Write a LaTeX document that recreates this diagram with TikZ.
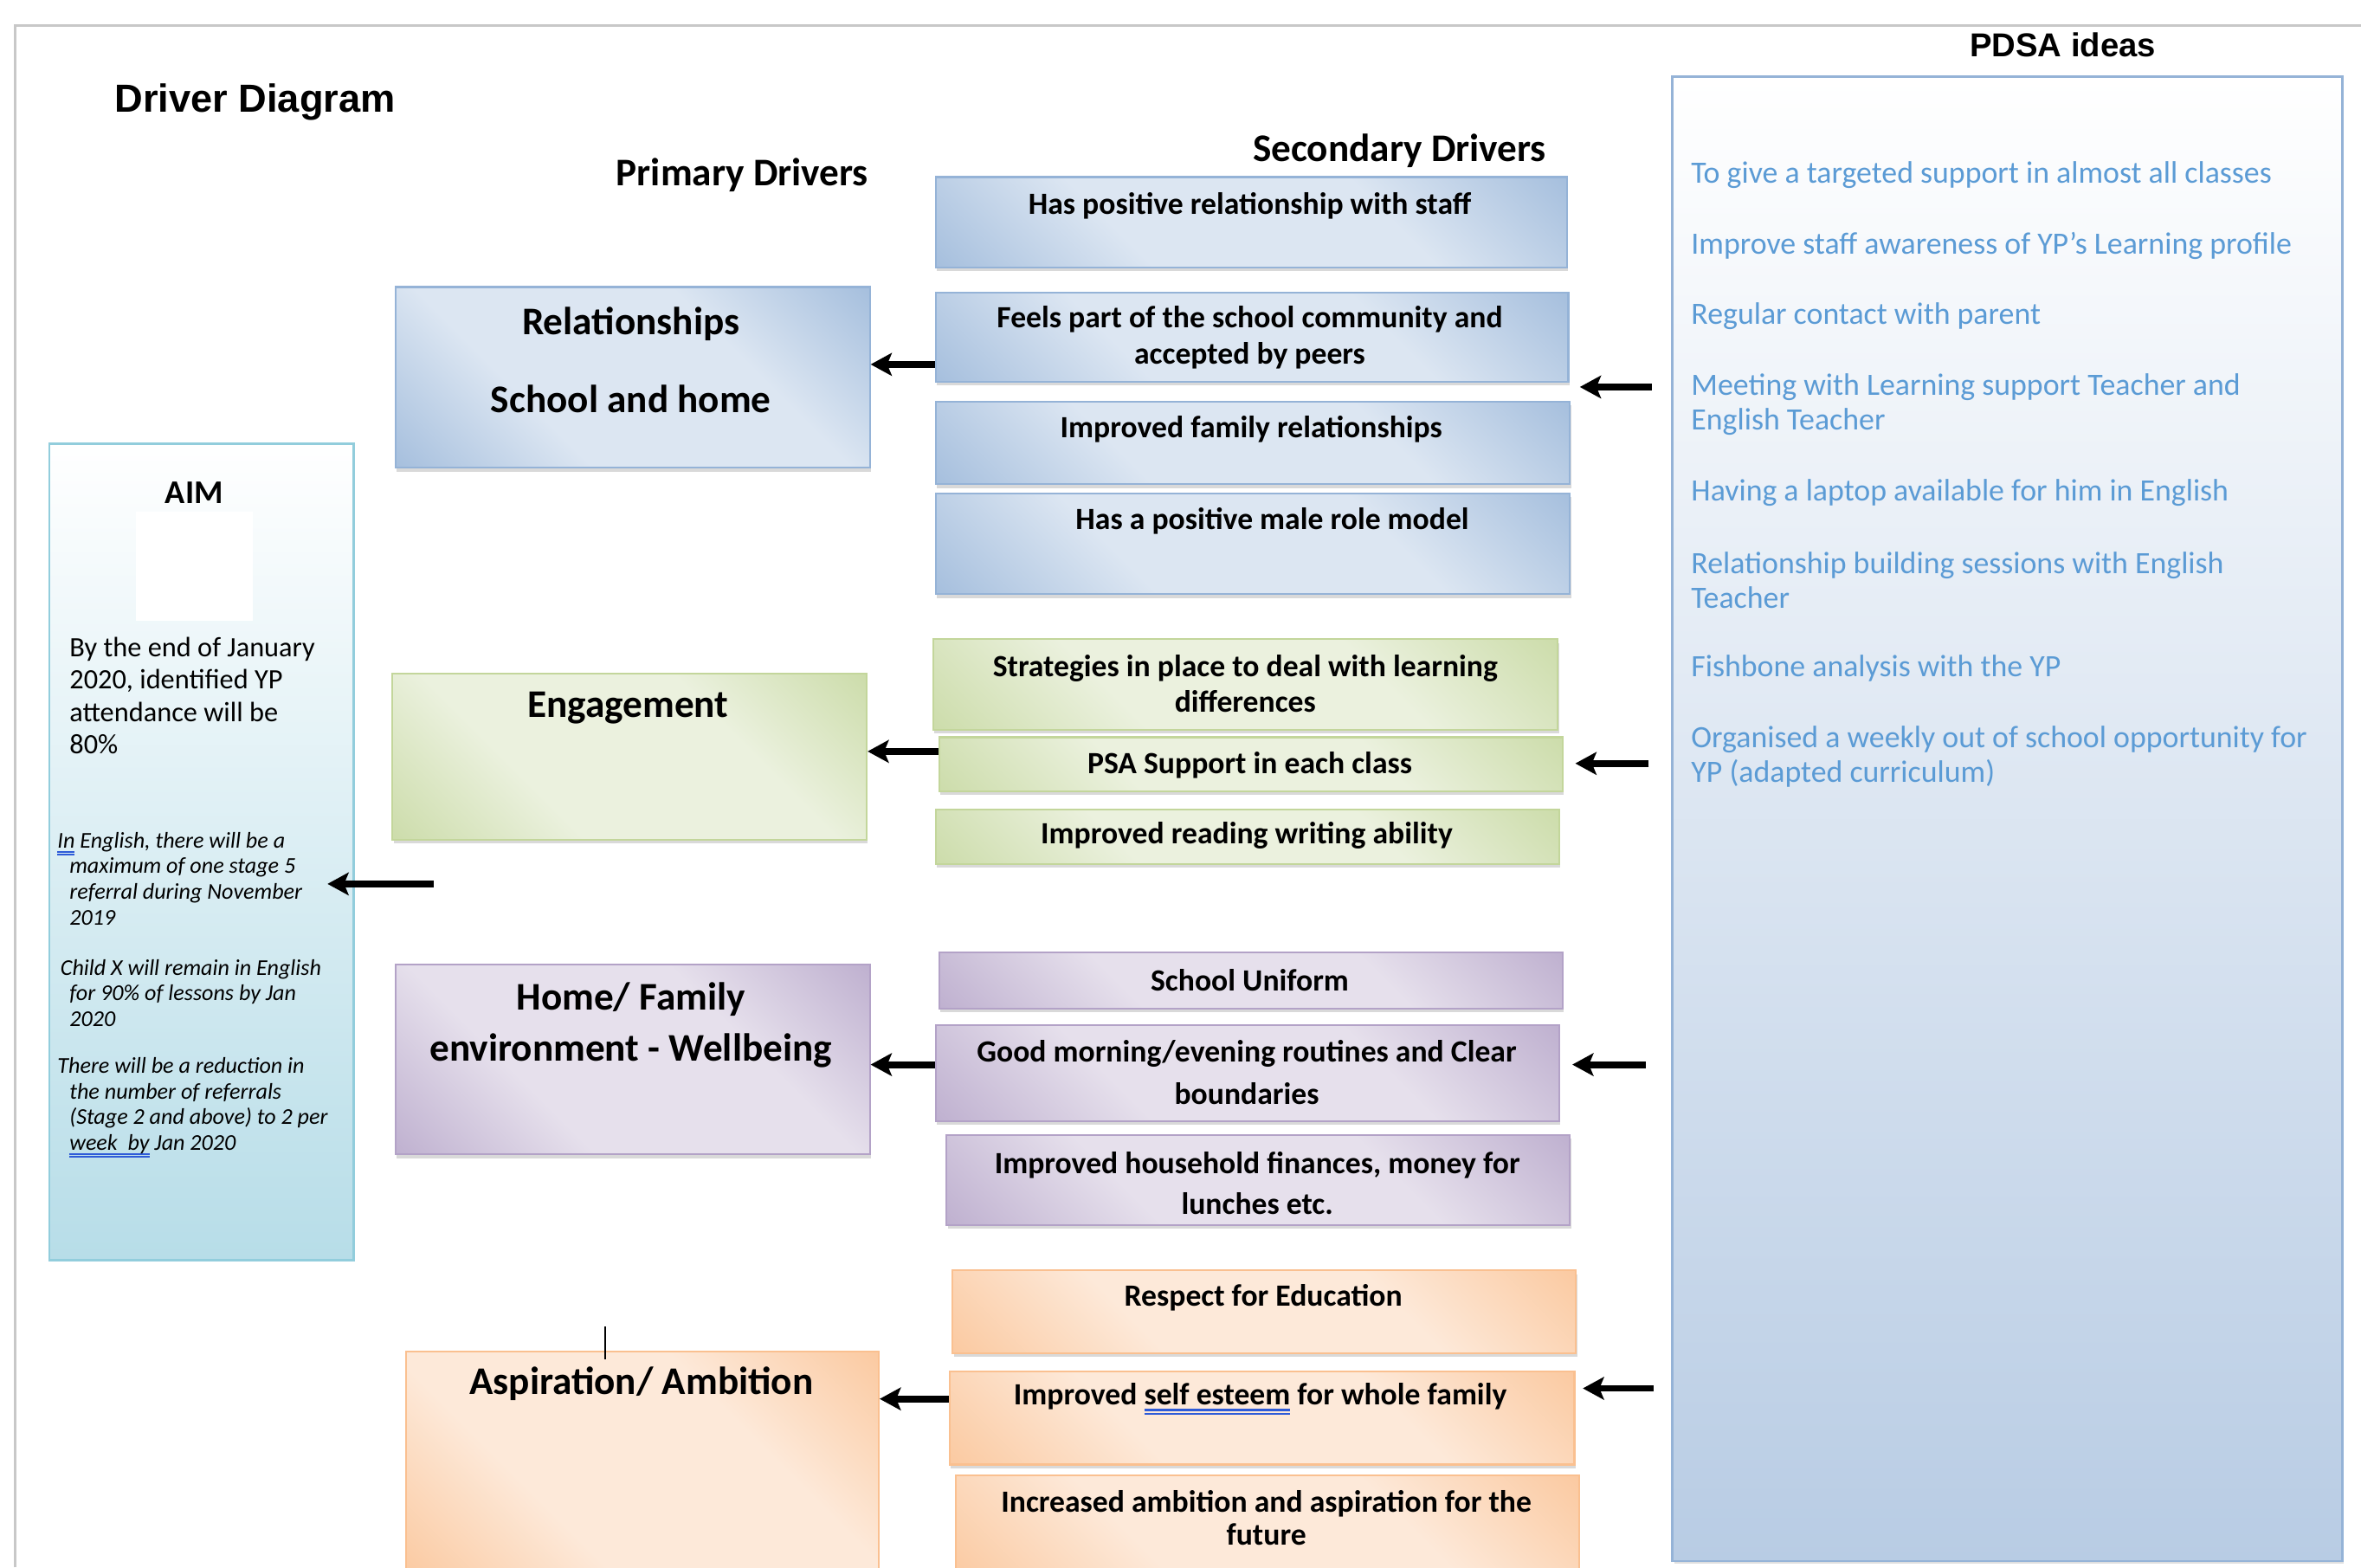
\documentclass[tikz,border=0pt]{standalone}
\usepackage{fontspec}
\setmainfont{Carlito}
\newfontfamily\arialfont{Liberation Sans}
\usetikzlibrary{arrows.meta,shadows}

\definecolor{bluedark}{HTML}{95B3D7}
\definecolor{bluelight}{HTML}{DCE6F2}
\definecolor{greendark}{HTML}{C3D69B}
\definecolor{greenlight}{HTML}{EBF1DE}
\definecolor{purpledark}{HTML}{B3A2C7}
\definecolor{purplelight}{HTML}{E6E0EC}
\definecolor{orangedark}{HTML}{FAC090}
\definecolor{orangelight}{HTML}{FDE9D9}
\definecolor{pdsablue}{HTML}{B8CCE4}
\definecolor{pdsatext}{HTML}{5B9BD5}
\definecolor{aimblue}{HTML}{B7DDE8}
\definecolor{aimline}{HTML}{92CDDC}
\definecolor{gramblue}{HTML}{2E5BD8}
\definecolor{framegray}{HTML}{C8C8C8}

\pgfdeclareverticalshading{bluediag}{100bp}{color(0bp)=(bluedark); color(8bp)=(bluedark); color(36bp)=(bluelight); color(64bp)=(bluelight); color(92bp)=(bluedark); color(100bp)=(bluedark)}
\pgfdeclareverticalshading{greendiag}{100bp}{color(0bp)=(greendark); color(8bp)=(greendark); color(36bp)=(greenlight); color(64bp)=(greenlight); color(92bp)=(greendark); color(100bp)=(greendark)}
\pgfdeclareverticalshading{purplediag}{100bp}{color(0bp)=(purpledark); color(8bp)=(purpledark); color(36bp)=(purplelight); color(64bp)=(purplelight); color(92bp)=(purpledark); color(100bp)=(purpledark)}
\pgfdeclareverticalshading{orangediag}{100bp}{color(0bp)=(orangedark); color(8bp)=(orangedark); color(36bp)=(orangelight); color(64bp)=(orangelight); color(92bp)=(orangedark); color(100bp)=(orangedark)}

% grammar-check underline
\newcommand{\gram}[1]{\setbox0\hbox{#1}\rlap{\color{gramblue}\rule[-0.2em]{\wd0}{0.06em}}\rlap{\color{gramblue}\rule[-0.32em]{\wd0}{0.06em}}#1}

\tikzset{
  drvbox/.style 2 args={draw=#1, line width=1.2, shade, shading=#2, shading angle=-45,
    anchor=north west, inner sep=0,
    drop shadow={shadow xshift=0.8pt, shadow yshift=-2.5pt, opacity=0.3}},
  primtxt/.style={font=\bfseries\fontsize{26}{34}\selectfont, align=center, inner sep=0},
  sectxt/.style={font=\bfseries\fontsize{20.5}{24}\selectfont, align=center, inner sep=0},
  headtxt/.style={font=\bfseries\fontsize{26}{30}\selectfont, inner sep=0},
  idea/.style={anchor=west, align=left, inner sep=0, text=pdsatext, font=\fontsize{20.6}{23}\selectfont},
  aimtxt/.style={anchor=west, align=left, inner sep=0, font=\itshape\fontsize{15}{17}\selectfont},
  arr/.style={line width=4.5, -{Stealth[length=14pt, width=15pt, inset=3pt]}}
}

\begin{document}
\begin{tikzpicture}[x=1pt, y=-1pt]
  \useasboundingbox (0,0) rectangle (1568,1041);
  \clip (0,0) rectangle (1568,1041);

  \draw [framegray, line width=2](10,1041)--(10,17)--(1568,17);

  % headings
  \node (title) [anchor=west, inner sep=0, font=\arialfont\bfseries\fontsize{26}{30}\selectfont] at (76,68) {Driver Diagram};
  \node (primhead) [headtxt] at (493,116) {Primary Drivers};
  \node (sechead) [headtxt] at (929.5,100) {Secondary Drivers};
  \node (pdsahead) [inner sep=0, font=\arialfont\bfseries\fontsize{22}{26}\selectfont] at (1370,30) {PDSA ideas};

  % aim
  \node (aim) [draw=aimline, line width=1.5, top color=white, bottom color=aimblue, anchor=north west,
               inner sep=0, minimum width=202, minimum height=542] at (32,294) {};
  \fill [white](90,340) rectangle (168,412);
  \node (aimhead) [inner sep=0, font=\bfseries\fontsize{22}{26}\selectfont] at (129,327) {AIM};
  \node (aim1) [aimtxt, font=\fontsize{18.6}{21.5}\selectfont] at (46,462)
    {By the end of January\\2020, identified YP\\attendance will be\\80\%};
  \node (aim2) [aimtxt] at (38,583.5)
    {\gram{In} English, there will be a\\\hspace*{8pt}maximum of one stage 5\\\hspace*{8pt}referral during November\\\hspace*{8pt}2019};
  \node (aim3) [aimtxt] at (40,659.5)
    {Child X will remain in English\\\hspace*{6pt}for 90\% of lessons by Jan\\\hspace*{6pt}2020};
  \node (aim4) [aimtxt] at (38,735.5)
    {There will be a reduction in\\\hspace*{8pt}the number of referrals\\\hspace*{8pt}(Stage 2 and above) to 2 per\\\hspace*{8pt}\gram{week\ \ by} Jan 2020};

  % pdsa ideas
  \node (pdsa) [draw=bluedark, line width=1.5, top color=white, bottom color=pdsablue, anchor=north west,
                inner sep=0, minimum width=445, minimum height=986,
                drop shadow={shadow xshift=1pt, shadow yshift=-1.5pt, opacity=0.25}] at (1110,50) {};
  \foreach \ty/\txt [count=\i] in {116/{To give a targeted support in almost all classes},
      163/{Improve staff awareness of YP’s Learning profile},
      210/{Regular contact with parent},
      268.5/{Meeting with Learning support Teacher and\\English Teacher},
      327/{Having a laptop available for him in English},
      385.5/{Relationship building sessions with English\\Teacher},
      444/{Fishbone analysis with the YP},
      502.5/{Organised a weekly out of school opportunity for\\YP (adapted curriculum)}}{
    \node (idea\i) [idea] at (1123,\ty) {\txt};
  }

  % primary drivers
  \node (rel) [drvbox={bluedark}{bluediag}, minimum width=315, minimum height=120] at (262,190) {};
  \node (eng) [drvbox={greendark}{greendiag}, minimum width=315, minimum height=110] at (260,447) {};
  \node (home) [drvbox={purpledark}{purplediag}, minimum width=315, minimum height=126] at (262,640) {};
  \node (asp) [drvbox={orangedark}{orangediag}, minimum width=314, minimum height=150] at (269,897) {};
  \draw [line width=1](402,881)--(402,903);

  \node (relt) [primtxt, font=\bfseries\fontsize{26}{52}\selectfont] at (419,239) {Relationships\\School and home};
  \node (engt) [primtxt] at (417,470) {Engagement};
  \node (homet) [primtxt] at (419,681) {Home/ Family\\environment - Wellbeing};
  \node (aspt) [primtxt] at (426,919) {Aspiration/ Ambition};

  % secondary drivers
  \node (s1) [drvbox={bluedark}{bluediag}, minimum width=419, minimum height=60] at (621,117) {};
  \node (s2) [drvbox={bluedark}{bluediag}, minimum width=420, minimum height=59] at (621,194) {};
  \node (s3) [drvbox={bluedark}{bluediag}, minimum width=421, minimum height=55] at (621,266) {};
  \node (s4) [drvbox={bluedark}{bluediag}, minimum width=421, minimum height=67] at (621,327) {};
  \node (g1) [drvbox={greendark}{greendiag}, minimum width=415, minimum height=60] at (619,424) {};
  \node (g2) [drvbox={greendark}{greendiag}, minimum width=414, minimum height=36] at (623,489) {};
  \node (g3) [drvbox={greendark}{greendiag}, minimum width=414, minimum height=36] at (621,537) {};
  \node (p1) [drvbox={purpledark}{purplediag}, minimum width=414, minimum height=37] at (623,632) {};
  \node (p2) [drvbox={purpledark}{purplediag}, minimum width=414, minimum height=64] at (621,680) {};
  \node (p3) [drvbox={purpledark}{purplediag}, minimum width=414, minimum height=60] at (628,753) {};
  \node (o1) [drvbox={orangedark}{orangediag}, minimum width=414, minimum height=55] at (632,843) {};
  \node (o2) [drvbox={orangedark}{orangediag}, minimum width=415, minimum height=62] at (630,910) {};
  \node (o3) [drvbox={orangedark}{orangediag}, minimum width=414, minimum height=70] at (634,979) {};

  \node (s1t) [sectxt] at (830,137) {Has positive relationship with staff};
  \node (s2t) [sectxt] at (830,224) {Feels part of the school community and\\accepted by peers};
  \node (s3t) [sectxt] at (831,285) {Improved family relationships};
  \node (s4t) [sectxt] at (845,346) {Has a positive male role model};
  \node (g1t) [sectxt] at (827,454) {Strategies in place to deal with learning\\differences};
  \node (g2t) [sectxt] at (830,508) {PSA Support in each class};
  \node (g3t) [sectxt] at (828,555) {Improved reading writing ability};
  \node (p1t) [sectxt] at (830,651) {School Uniform};
  \node (p2t) [sectxt] at (828,712) {Good morning/evening routines and Clear\\[4pt]boundaries};
  \node (p3t) [sectxt] at (835,785.5) {Improved household finances, money for\\[3pt]lunches etc.};
  \node (o1t) [sectxt] at (839,862) {Respect for Education};
  \node (o2t) [sectxt] at (837,929) {Improved \gram{self esteem} for whole family};
  \node (o3t) [sectxt] at (841,1008) {Increased ambition and aspiration for the\\[-2pt]future};

  % arrows
  \draw [arr](s2.west |- 0,242)--(rel.east |- 0,242);
  \draw [arr](g2.west |- 0,499)--(eng.east |- 0,499);
  \draw [arr](p2.west |- 0,707)--(home.east |- 0,707);
  \draw [arr](o2.west |- 0,929)--(asp.east |- 0,929);

  \coordinate (r1) at (1097,257);
  \coordinate (r2) at (1095,507);
  \coordinate (r3) at (1093,707);
  \coordinate (r4) at (1098,922);
  \draw [arr, shorten >=7](r1)--(r1 -| s2.east);
  \draw [arr, shorten >=8](r2)--(r2 -| g2.east);
  \draw [arr, shorten >=8](r3)--(r3 -| p2.east);
  \draw [arr, shorten >=5](r4)--(r4 -| o2.east);

  \coordinate (a0) at (288,587);
  \draw [arr, shorten >=-18](a0)--(a0 -| aim.east);
\end{tikzpicture}
\end{document}
